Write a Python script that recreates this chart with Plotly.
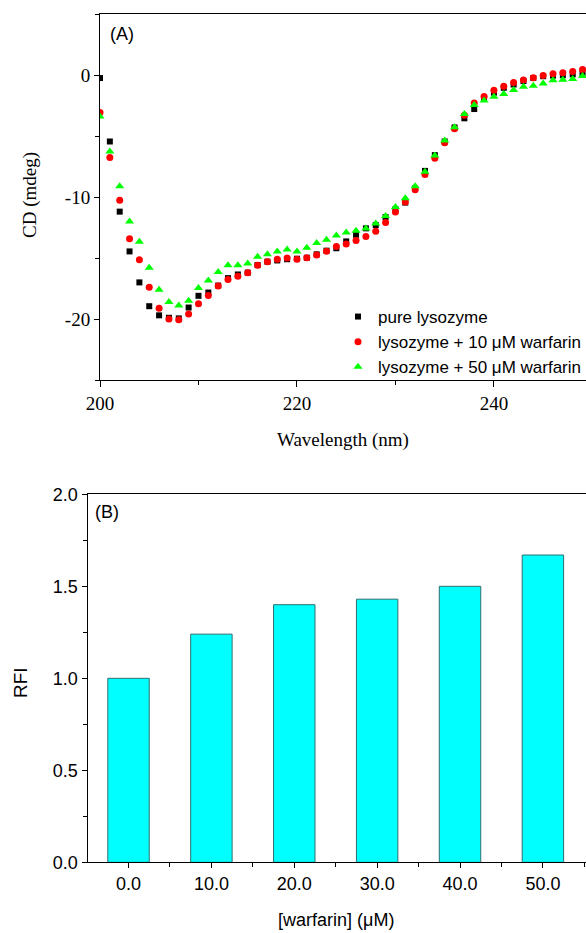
import plotly.graph_objects as go

# ---------------- data ----------------
wavelength = list(range(200, 250))
pure_lysozyme = [-0.25, -5.45, -11.2, -14.46, -17.0, -18.95, -19.7, -19.9, -19.95, -19.06,
                 -18.1, -17.83, -17.26, -16.65, -16.35, -16.2, -15.58, -15.3, -15.2, -15.1,
                 -15.06, -14.98, -14.7, -14.4, -14.2, -13.64, -13.1, -12.57, -12.3, -11.65,
                 -11.0, -10.46, -9.3, -7.86, -6.57, -5.45, -4.3, -3.55, -2.79, -1.95,
                 -1.45, -1.05, -0.78, -0.5, -0.25, -0.1, -0.05, -0.02, 0.05, 0.12]
warfarin_10 = [-3.07, -6.77, -10.27, -13.42, -15.15, -17.4, -19.12, -20.0, -20.07, -19.6,
               -18.76, -18.08, -17.3, -16.76, -16.5, -16.2, -15.6, -15.3, -15.1, -15.0,
               -15.1, -14.98, -14.75, -14.45, -14.05, -13.86, -13.56, -13.23, -12.8, -12.08,
               -11.23, -10.4, -9.4, -8.15, -6.83, -5.55, -4.4, -3.3, -2.3, -1.76,
               -1.25, -0.92, -0.62, -0.4, -0.22, -0.05, 0.1, 0.18, 0.28, 0.45]
warfarin_50 = [-3.4, -6.27, -9.12, -12.0, -13.67, -15.8, -17.6, -18.6, -18.9, -18.5,
               -17.45, -16.85, -16.15, -15.6, -15.6, -15.45, -14.9, -14.7, -14.46, -14.3,
               -14.46, -14.16, -13.78, -13.5, -13.15, -12.9, -12.77, -12.58, -12.18, -11.56,
               -10.82, -10.1, -9.12, -7.94, -6.6, -5.37, -4.28, -3.19, -2.45, -2.1,
               -1.78, -1.55, -1.22, -0.97, -0.88, -0.7, -0.44, -0.38, -0.32, -0.09]
series_names = ["pure lysozyme", "lysozyme + 10 \u03bcM warfarin", "lysozyme + 50 \u03bcM warfarin"]

warfarin_conc = [0, 10, 20, 30, 40, 50]
rfi = [1.0, 1.24, 1.40, 1.43, 1.50, 1.67]
conc_ticklabels = ["0.0", "10.0", "20.0", "30.0", "40.0", "50.0"]
rfi_tickvals = [0.0, 0.5, 1.0, 1.5, 2.0]
rfi_ticklabels = ["0.0", "0.5", "1.0", "1.5", "2.0"]
cd_tickvals = [0, -10, -20]
cd_ticklabels = ["0", "-10", "-20"]
wl_tickvals = [200, 220, 240]
wl_ticklabels = ["200", "220", "240"]

# ---------------- figure ----------------
W, H = 586, 933
SERIF = "'Liberation Serif', 'Times New Roman', Times, serif"
SANS = "'Liberation Sans', Arial, sans-serif"

fig = go.Figure()

fig.add_trace(go.Scatter(x=wavelength, y=pure_lysozyme, mode="markers", name=series_names[0],
                         marker=dict(symbol="square", size=6, color="black"),
                         xaxis="x", yaxis="y"))
fig.add_trace(go.Scatter(x=wavelength, y=warfarin_10, mode="markers", name=series_names[1],
                         marker=dict(symbol="circle", size=7, color="#ff0000"),
                         xaxis="x", yaxis="y"))
fig.add_trace(go.Scatter(x=wavelength, y=warfarin_50, mode="markers", name=series_names[2],
                         marker=dict(symbol="triangle-up", size=8, color="#00ff00"),
                         xaxis="x", yaxis="y"))

fig.add_trace(go.Bar(x=warfarin_conc, y=rfi, width=5, showlegend=False,
                     marker=dict(color="#00ffff", line=dict(color="#2f6f6f", width=1)),
                     xaxis="x2", yaxis="y2"))

def py(pix):
    return 1 - pix / H

axis_common = dict(showgrid=False, zeroline=False, showline=True, linecolor="black",
                   linewidth=1, mirror=True, ticks="outside", tickcolor="black",
                   tickwidth=1, automargin=False)

fig.update_layout(
    width=W, height=H,
    margin=dict(l=0, r=0, t=0, b=0, autoexpand=False),
    paper_bgcolor="white", plot_bgcolor="white",
    showlegend=True,
    legend=dict(x=1, y=py(299), xanchor="right", yanchor="top",
                bgcolor="rgba(0,0,0,0)", font=dict(family=SANS, size=17, color="black"),
                tracegroupgap=0),
    xaxis=dict(domain=[100 / W, 1], anchor="y", range=[200, 249.35],
               tickvals=wl_tickvals, ticktext=wl_ticklabels, ticklen=6,
               tickfont=dict(family=SERIF, size=19, color="black"),
               minor=dict(dtick=10, tick0=200, ticks="outside", ticklen=4, tickcolor="black"),
               **axis_common),
    yaxis=dict(domain=[py(380), py(14)], anchor="x", range=[-25, 5],
               tickvals=cd_tickvals, ticktext=cd_ticklabels, ticklen=5,
               tickfont=dict(family=SERIF, size=19, color="black"),
               minor=dict(dtick=5, tick0=0, ticks="outside", ticklen=4, tickcolor="black"),
               **axis_common),
    xaxis2=dict(domain=[87.5 / W, 1], anchor="y2", range=[-4.95, 55.2],
                tickvals=warfarin_conc, ticktext=conc_ticklabels, ticklen=5,
                tickfont=dict(family=SANS, size=18, color="black"),
                minor=dict(dtick=10, tick0=5, ticks="outside", ticklen=4, tickcolor="black"),
                **axis_common),
    yaxis2=dict(domain=[py(862.3), py(494.3)], anchor="x2", range=[0, 2.0],
                tickvals=rfi_tickvals, ticktext=rfi_ticklabels, ticklen=5,
                tickfont=dict(family=SANS, size=18, color="black"),
                minor=dict(dtick=0.25, tick0=0, ticks="outside", ticklen=4, tickcolor="black"),
                **axis_common),
)

annotations = [
    dict(text="(A)", x=108 / W, y=py(34), xanchor="left", yanchor="middle",
         font=dict(family=SANS, size=18, color="black")),
    dict(text="(B)", x=93 / W, y=py(512), xanchor="left", yanchor="middle",
         font=dict(family=SANS, size=18, color="black")),
    dict(text="CD (mdeg)", x=30 / W, y=py(195), xanchor="center", yanchor="middle",
         textangle=-90, font=dict(family=SERIF, size=19, color="black")),
    dict(text="Wavelength (nm)", x=343 / W, y=py(440), xanchor="center", yanchor="middle",
         font=dict(family=SERIF, size=19, color="black")),
    dict(text="RFI", x=20 / W, y=py(683), xanchor="center", yanchor="middle",
         textangle=-90, font=dict(family=SANS, size=19, color="black")),
    dict(text="[warfarin] (\u03bcM)", x=336 / W, y=py(920), xanchor="center", yanchor="middle",
         font=dict(family=SANS, size=18, color="black")),
]
for a in annotations:
    a.update(xref="paper", yref="paper", showarrow=False)
fig.update_layout(annotations=annotations)

fig.write_html("out.html")
